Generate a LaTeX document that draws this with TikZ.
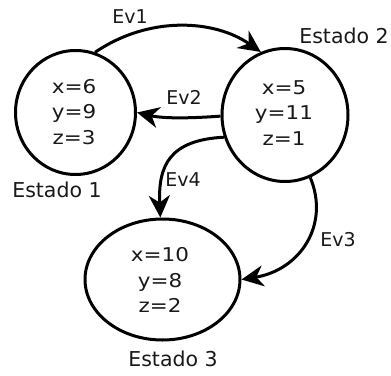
\documentclass[tikz,border=0pt]{standalone}
\usepackage{fontspec}
\setmainfont{DejaVu Sans}
\newfontfamily\valfont[FakeStretch=1.13]{DejaVu Sans}
\usetikzlibrary{arrows.meta,shapes.geometric}
\begin{document}
\begin{tikzpicture}[x=1pt,y=-1pt,
  state/.style={draw=black,line width=3pt,ellipse,inner sep=0pt},
  vals/.style={align=center,font=\valfont\fontsize{19}{25.5}\selectfont,text=black!90},
  lbl/.style={font=\fontsize{19}{22}\selectfont,text=black!90},
  statename/.style={font=\fontsize{20.5}{22}\selectfont,text=black!90},
  trans/.style={line width=3pt,-{Stealth[length=22pt,width=21pt,inset=7pt]}}]
\useasboundingbox (0,0) rectangle (391,375);
% states
\node[state,minimum width=120pt,minimum height=124pt] (s1) at (75.5,112.5) {};
\node[state,minimum width=126pt,minimum height=133pt] (s2) at (285,115) {};
\node[state,minimum width=155pt,minimum height=121pt] (s3) at (162.5,279.5) {};
\node[vals] (v1) at (74,112) {x=6\\y=9\\z=3};
\node[vals] (v2) at (284,113) {x=5\\y=11\\z=1};
\node[vals] (v3) at (160,280) {x=10\\y=8\\z=2};
% state names
\node[statename] (n1) at (57,190) {Estado 1};
\node[statename] (n2) at (344,36) {Estado 2};
\node[statename] (n3) at (173,359) {Estado 3};
% transitions
\draw[trans] (s1.72) .. controls (150,15) and (215,20) .. (s2.111);
\node[lbl] (e1) at (130,17) {Ev1};
\draw[trans] (s2.181) .. controls (195,118) and (165,119) .. (s1.0);
\node[lbl] (e2) at (184,97) {Ev2};
\draw[trans] (s2.200) .. controls (170,140) and (158,165) .. (s3.92);
\node[lbl] (e4) at (183,180) {Ev4};
\draw[trans] (s2.292) .. controls (330,225) and (300,270) .. (s3.0);
\node[lbl] (e3) at (338,240) {Ev3};
\end{tikzpicture}
\end{document}
